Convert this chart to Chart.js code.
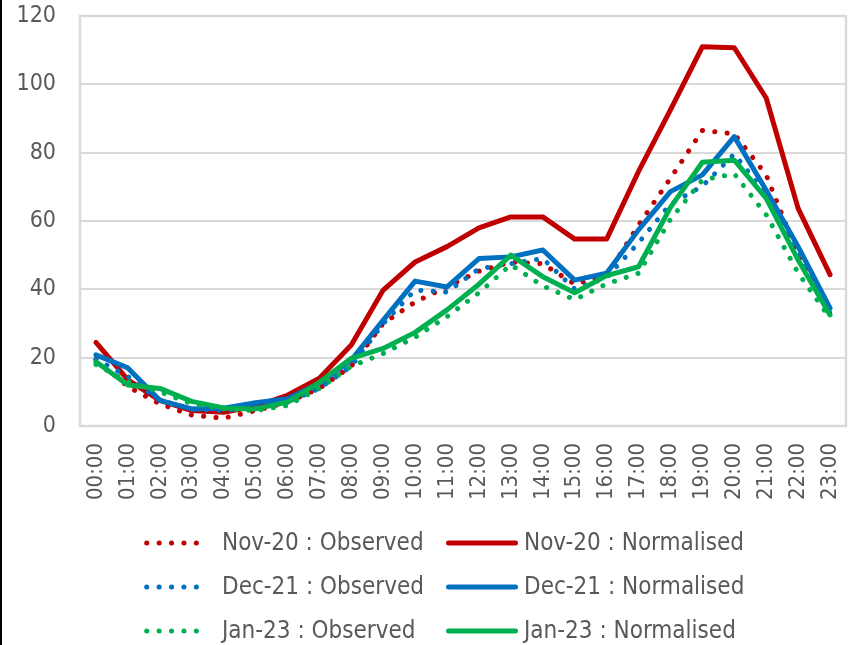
<!DOCTYPE html>
<html>
<head>
<meta charset="utf-8">
<script src="https://cdn.jsdelivr.net/npm/chart.js@4.4.1/dist/chart.umd.min.js"></script>
<style>
  html, body { margin: 0; padding: 0; background: #fff; }
  canvas { display: block; }
</style>
</head>
<body>
<canvas id="hourlyChart" width="855" height="645"></canvas>
<script>
const hours = ['00:00', '01:00', '02:00', '03:00', '04:00', '05:00', '06:00', '07:00',
    '08:00', '09:00', '10:00', '11:00', '12:00', '13:00', '14:00', '15:00',
    '16:00', '17:00', '18:00', '19:00', '20:00', '21:00', '22:00', '23:00'];

const nov20Observed = [19.5, 11.5, 6.5, 3.2, 2.3, 4.5, 7, 11, 17.5, 30, 36.3, 40.8,
    45.3, 48, 47.5, 41.5, 44, 58.8, 72.5, 86.5, 85.5, 73.5, 50, 33];
const nov20Normalised = [24.5, 13.5, 7.5, 4.5, 4, 5.8, 9, 14, 23.7, 39.8, 48, 52.5,
    58, 61.2, 61.2, 54.7, 54.7, 74.5, 92.5, 111, 110.7, 96, 63.7, 44.3];

const dec21Observed = [19.5, 14.5, 7.5, 5, 4.5, 5.5, 7, 11, 17.5, 30, 39.8, 39.2,
    46, 47.5, 49, 40.1, 43.5, 53.6, 65, 70.2, 79.6, 67.8, 50.5, 33];
const dec21Normalised = [20.8, 17, 7.5, 5, 5.2, 6.8, 8, 12.5, 19.3, 31, 42.4, 40.7,
    49, 49.5, 51.5, 42.7, 44.7, 57.4, 68.6, 73.5, 84.7, 69, 52.5, 34.5];

const jan23Observed = [18, 13, 10, 6.5, 5, 4.5, 6, 11, 17.5, 21.2, 26, 32,
    39, 47.2, 41, 37, 41.6, 44.7, 60.5, 72, 73.8, 61.8, 44.8, 31.5];
const jan23Normalised = [18.8, 12, 11, 7.2, 5.3, 5, 7, 12.8, 19.8, 22.7, 27.4, 34,
    41.5, 50, 43.7, 39, 44, 46.6, 64, 77.2, 77.8, 66.6, 48.6, 32.5];

const yTicks = [0, 20, 40, 60, 80, 100, 120];

const RED = '#C00000';
const BLUE = '#0070C0';
const GREEN = '#00B050';
const TEXT = '#595959';
const GRID = '#D9D9D9';
const FONT = "'DejaVu Sans Condensed', 'Liberation Sans', sans-serif";

function makeSeries(label, data, color, dotted, order) {
    return {
        label: label,
        data: data,
        borderColor: color,
        backgroundColor: color,
        borderWidth: 5,
        borderDash: dotted ? [0.1, 12.3] : [],
        borderCapStyle: 'round',
        borderJoinStyle: 'round',
        pointRadius: 0,
        pointHoverRadius: 0,
        tension: 0,
        fill: false,
        order: order
    };
}

// black strip on the left edge + grey frame round the plot
const frame = {
    id: 'frame',
    beforeDraw(chart) {
        const ctx = chart.ctx;
        ctx.save();
        ctx.fillStyle = '#000';
        ctx.fillRect(0, 0, 2, chart.height);
        ctx.restore();
    },
    beforeDatasetsDraw(chart) {
        const a = chart.chartArea;
        const ctx = chart.ctx;
        ctx.save();
        ctx.strokeStyle = GRID;
        ctx.lineWidth = 2.5;
        ctx.strokeRect(a.left, a.top, a.right - a.left, a.bottom - a.top);
        ctx.restore();
    }
};

// two column legend under the axis
const legendGrid = {
    id: 'legendGrid',
    afterDraw(chart) {
        const ctx = chart.ctx;
        const rows = [543, 587, 631];
        const cols = [
            { x0: 146.7, x1: 208.4, textX: 222 },
            { x0: 448.5, x1: 515.5, textX: 524 }
        ];
        ctx.save();
        chart.data.datasets.forEach((ds, i) => {
            const y = rows[Math.floor(i / 2)];
            const c = cols[i % 2];
            ctx.beginPath();
            ctx.strokeStyle = ds.borderColor;
            ctx.lineWidth = 5;
            ctx.lineCap = 'round';
            ctx.setLineDash(ds.borderDash);
            ctx.moveTo(c.x0, y);
            ctx.lineTo(c.x1, y);
            ctx.stroke();
            ctx.setLineDash([]);
            ctx.fillStyle = TEXT;
            ctx.font = '24px ' + FONT;
            ctx.textAlign = 'left';
            ctx.textBaseline = 'middle';
            ctx.fillText(ds.label, c.textX, y + 1);
        });
        ctx.restore();
    }
};

const ctx = document.getElementById('hourlyChart');
new Chart(ctx, {
    type: 'line',
    data: {
        labels: hours,
        datasets: [
            makeSeries('Nov-20 : Observed', nov20Observed, RED, true, 6),
            makeSeries('Nov-20 : Normalised', nov20Normalised, RED, false, 5),
            makeSeries('Dec-21 : Observed', dec21Observed, BLUE, true, 4),
            makeSeries('Dec-21 : Normalised', dec21Normalised, BLUE, false, 3),
            makeSeries('Jan-23 : Observed', jan23Observed, GREEN, true, 2),
            makeSeries('Jan-23 : Normalised', jan23Normalised, GREEN, false, 1)
        ]
    },
    options: {
        responsive: false,
        devicePixelRatio: 1,
        animation: false,
        layout: {
            padding: { left: 0, right: 9, top: 16, bottom: 119 }
        },
        plugins: {
            legend: { display: false },
            tooltip: { enabled: false }
        },
        scales: {
            x: {
                offset: true,
                grid: { display: false, drawTicks: false },
                border: { display: false },
                ticks: {
                    autoSkip: false,
                    minRotation: 90,
                    maxRotation: 90,
                    padding: 17,
                    color: TEXT,
                    font: { family: FONT, size: 22 }
                },
                afterFit(scale) {
                    scale.height = 100;
                    scale.paddingLeft = 0;
                    scale.paddingRight = 0;
                }
            },
            y: {
                min: 0,
                max: 120,
                afterBuildTicks(scale) {
                    scale.ticks = yTicks.map(v => ({ value: v }));
                },
                grid: { color: GRID, lineWidth: 2, drawTicks: false },
                border: { display: false },
                ticks: {
                    padding: 24,
                    color: TEXT,
                    font: { family: FONT, size: 23 }
                },
                afterFit(scale) {
                    scale.width = 80;
                    scale.paddingTop = 0;
                    scale.paddingBottom = 0;
                }
            }
        }
    },
    plugins: [frame, legendGrid]
});
</script>
</body>
</html>
